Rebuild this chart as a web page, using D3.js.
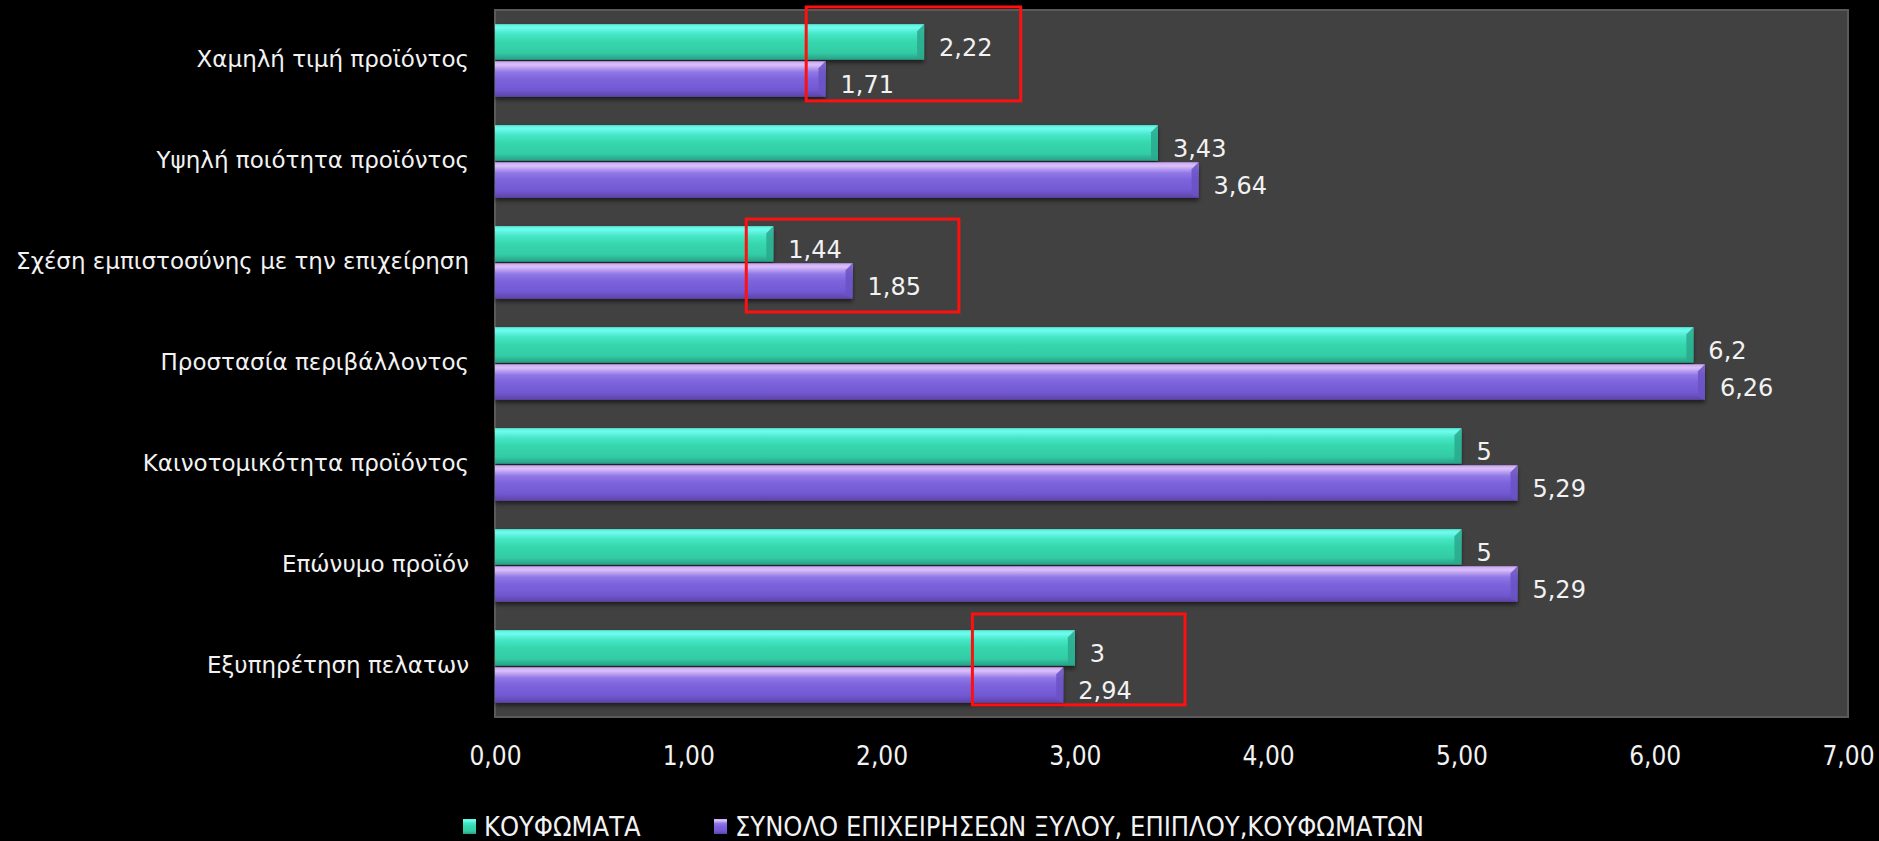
<!DOCTYPE html>
<html>
<head>
<meta charset="utf-8">
<script src="https://cdn.jsdelivr.net/npm/d3@7"></script>
<style>
  html, body { margin: 0; padding: 0; background: #000; }
  svg { display: block; }
</style>
</head>
<body>
<svg id="chart" width="1879" height="841"></svg>
<script>
// categories, top to bottom
const categories = [
  'Χαμηλή τιμή προϊόντος',
  'Υψηλή ποιότητα προϊόντος',
  'Σχέση εμπιστοσύνης με την επιχείρηση',
  'Προστασία περιβάλλοντος',
  'Καινοτομικότητα προϊόντος',
  'Επώνυμο προϊόν',
  'Εξυπηρέτηση πελατων'
]

const seriesNames = ['ΚΟΥΦΩΜΑΤΑ', 'ΣΥΝΟΛΟ ΕΠΙΧΕΙΡΗΣΕΩΝ ΞΥΛΟΥ, ΕΠΙΠΛΟΥ,ΚΟΥΦΩΜΑΤΩΝ']
const koufomata = [2.22, 3.43, 1.44, 6.2, 5, 5, 3]
const synolo = [1.71, 3.64, 1.85, 6.26, 5.29, 5.29, 2.94]
const xTicks = [0, 1, 2, 3, 4, 5, 6, 7]

// red boxes drawn on the original slide, in data units
// (x in values, y in category rows counted from the top)
const highlights = [
  { from: 1.61, to: 2.72, rowFrom: -0.03, rowTo: 0.90 },
  { from: 1.30, to: 2.40, rowFrom: 2.07, rowTo: 2.99 },
  { from: 2.47, to: 3.57, rowFrom: 5.98, rowTo: 6.88 }
]

const W = 1879, H = 841
const margin = { top: 10, right: 31, bottom: 124, left: 495 }
const innerW = W - margin.left - margin.right
const innerH = H - margin.top - margin.bottom

const svg = d3.select('#chart')
const comma = v => String(v).replace('.', ',')

const defs = svg.append('defs')

function barGradient (id, stops) {
  const g = defs.append('linearGradient')
    .attr('id', id)
    .attr('x1', 0).attr('y1', 0).attr('x2', 0).attr('y2', 1)
  stops.forEach(s => g.append('stop').attr('offset', s[0]).attr('stop-color', s[1]))
}

barGradient('gTeal', [
  [0, '#58f0dc'], [0.1, '#6ffbee'], [0.28, '#45e6c6'],
  [0.5, '#36d7ad'], [0.8, '#33cca5'], [1, '#279e86']
])
barGradient('gPurple', [
  [0, '#c6a6f2'], [0.1, '#dcc0fb'], [0.3, '#9178e6'],
  [0.5, '#7d63dc'], [0.8, '#7258d2'], [1, '#5c44a6']
])

defs.append('filter').attr('id', 'shadow')
  .attr('x', '-5%').attr('y', '-20%').attr('width', '110%').attr('height', '160%')
  .append('feDropShadow')
  .attr('dx', 0).attr('dy', 3).attr('stdDeviation', 2)
  .attr('flood-color', '#000').attr('flood-opacity', 0.55)

const x = d3.scaleLinear().domain([0, 7]).range([0, innerW])
const y = d3.scaleBand().domain(categories).range([0, innerH]).paddingInner(0.28).paddingOuter(0.14)
const ySub = d3.scaleBand().domain([0, 1]).range([0, y.bandwidth()]).paddingInner(0.04)
const yRow = d3.scaleLinear().domain([0, categories.length]).range([0, innerH])

const g = svg.append('g').attr('transform', `translate(${margin.left},${margin.top})`)

// plot area
g.append('rect')
  .attr('x', 0).attr('y', 0)
  .attr('width', innerW).attr('height', innerH)
  .attr('fill', '#414141')
  .attr('stroke', '#5a5a5a')
  .attr('stroke-width', 2)

const rows = categories.map((c, i) => ({ cat: c, vals: [koufomata[i], synolo[i]] }))
const fills = ['url(#gTeal)', 'url(#gPurple)']
const capColors = ['#2aa98d', '#6a52c4']

const groups = g.selectAll('.grp')
  .data(rows)
  .join('g')
  .attr('class', 'grp')
  .attr('transform', d => `translate(0,${y(d.cat)})`)

groups.each(function (d) {
  const grp = d3.select(this)
  d.vals.forEach((v, s) => {
    const by = ySub(s)
    const bh = ySub.bandwidth()
    const bw = x(v)
    grp.append('rect')
      .attr('x', 0).attr('y', by)
      .attr('width', bw).attr('height', bh)
      .attr('fill', fills[s])
      .attr('filter', 'url(#shadow)')
    // bevelled end face
    const cap = 7
    grp.append('path')
      .attr('d', `M${bw - cap},${by + cap} L${bw},${by} L${bw},${by + bh} L${bw - cap},${by + bh - 3} Z`)
      .attr('fill', capColors[s])
      .attr('opacity', 0.85)
    grp.append('text')
      .attr('x', bw + 15)
      .attr('y', by + bh / 2 + 7)
      .attr('dominant-baseline', 'middle')
      .attr('fill', '#f2f2f2')
      .attr('font-family', 'DejaVu Sans, Verdana, sans-serif')
      .attr('font-size', 24)
      .text(comma(v))
  })
})

// category labels
g.selectAll('.cat')
  .data(categories)
  .join('text')
  .attr('class', 'cat')
  .attr('x', -26)
  .attr('y', d => y(d) + y.bandwidth() / 2)
  .attr('text-anchor', 'end')
  .attr('dominant-baseline', 'middle')
  .attr('fill', '#f2f2f2')
  .attr('font-family', 'DejaVu Sans, Verdana, sans-serif')
  .attr('font-size', 23)
  .text(d => d)

// x axis labels
const xAxis = d3.axisBottom(x)
  .tickValues(xTicks)
  .tickSize(0)
  .tickPadding(30)
  .tickFormat(d => d3.format('.2f')(d).replace('.', ','))

const ax = g.append('g')
  .attr('transform', `translate(0,${innerH})`)
  .call(xAxis)
ax.select('.domain').remove()
ax.selectAll('text')
  .attr('fill', '#f2f2f2')
  .attr('font-family', 'DejaVu Sans Condensed, DejaVu Sans, sans-serif')
  .attr('font-stretch', 'condensed')
  .attr('font-size', 26)

// red annotation boxes
g.selectAll('.hl')
  .data(highlights)
  .join('rect')
  .attr('class', 'hl')
  .attr('x', d => x(d.from))
  .attr('y', d => yRow(d.rowFrom))
  .attr('width', d => x(d.to) - x(d.from))
  .attr('height', d => yRow(d.rowTo) - yRow(d.rowFrom))
  .attr('fill', 'none')
  .attr('stroke', '#ff1010')
  .attr('stroke-width', 3)

// legend
const legend = svg.append('g').attr('transform', 'translate(463,827)')
const legendX = [0, 251]
seriesNames.forEach((name, i) => {
  const item = legend.append('g').attr('transform', `translate(${legendX[i]},0)`)
  item.append('rect')
    .attr('x', 0).attr('y', -8)
    .attr('width', 13).attr('height', 15)
    .attr('fill', fills[i])
  item.append('text')
    .attr('x', 21)
    .attr('y', 1)
    .attr('dominant-baseline', 'middle')
    .attr('fill', '#f2f2f2')
    .attr('font-family', 'DejaVu Sans Condensed, DejaVu Sans, sans-serif')
    .attr('font-stretch', 'condensed')
    .attr('font-size', 27)
    .text(name)
})
</script>
</body>
</html>
